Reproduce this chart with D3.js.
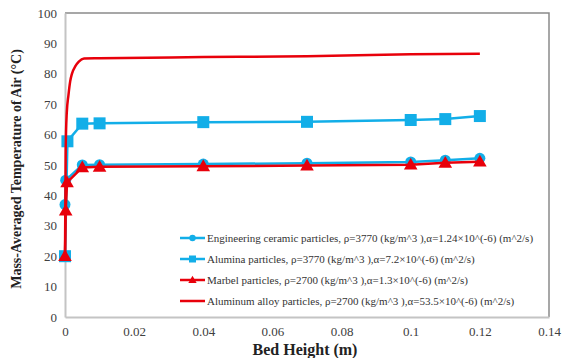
<!DOCTYPE html>
<html>
<head>
<meta charset="utf-8">
<script src="https://cdn.jsdelivr.net/npm/d3@7"></script>
<style>
  body { margin: 0; background: #fff; }
</style>
</head>
<body>
<div class="js-chart"></div>
<script>
// series data
var ceramicX = [0, 0.0002, 0.005, 0.01, 0.04, 0.07, 0.1, 0.11, 0.12];
var ceramicY = [37, 45, 50, 50.1, 50.3, 50.6, 51, 51.6, 52.2];

var aluminaX = [0, 0.0007, 0.005, 0.01, 0.04, 0.07, 0.1, 0.11, 0.12];
var aluminaY = [20, 57.8, 63.6, 63.7, 64.1, 64.2, 64.8, 65.1, 66.1];

var marbelX = [0, 0.0002, 0.0006, 0.005, 0.01, 0.04, 0.07, 0.1, 0.11, 0.12];
var marbelY = [20, 35, 44.3, 49.2, 49.4, 49.6, 49.8, 50.1, 50.7, 51.1];

var alloyX = [0, 0.0002, 0.0005, 0.001, 0.0015, 0.002, 0.003, 0.004, 0.0055, 0.01, 0.04, 0.07, 0.1, 0.12];
var alloyY = [20, 55, 67, 73, 77.5, 80, 82.5, 84, 85, 85.1, 85.5, 85.8, 86.4, 86.6];

var legendLabels = [
  "Engineering ceramic particles, \u03c1=3770 (kg/m^3 ),\u03b1=1.24\u00d710^(-6) (m^2/s)",
  "Alumina particles, \u03c1=3770 (kg/m^3 ),\u03b1=7.2\u00d710^(-6) (m^2/s)",
  "Marbel particles, \u03c1=2700 (kg/m^3 ),\u03b1=1.3\u00d710^(-6)  (m^2/s)",
  "Aluminum alloy particles, \u03c1=2700 (kg/m^3 ),\u03b1=53.5\u00d710^(-6)  (m^2/s)"
];
var xTicks = [0, 0.02, 0.04, 0.06, 0.08, 0.1, 0.12, 0.14];
var yTicks = [0, 10, 20, 30, 40, 50, 60, 70, 80, 90, 100];

var BLUE = "#12aee8";
var RED = "#e8000b";
var FONT = "'Liberation Serif', 'Times New Roman', 'DejaVu Serif', serif";

var width = 563, height = 358;
var margin = {top: 13, right: 14, bottom: 41, left: 65};

var svg = d3.select(".js-chart").append("svg")
  .attr("width", width)
  .attr("height", height)
  .style("font-family", FONT);

var x = d3.scaleLinear().domain([0, 0.14]).range([margin.left, width - margin.right]);
var y = d3.scaleLinear().domain([0, 100]).range([height - margin.bottom, margin.top]);

// frame top + right
svg.append("path")
  .attr("d", "M" + x(0) + "," + y(100) + "H" + x(0.14) + "V" + y(0))
  .attr("fill", "none")
  .attr("stroke", "#8a8a8a")
  .attr("stroke-width", 1.5);

// y axis
var yAxis = d3.axisLeft(y).tickValues(yTicks).tickSize(0).tickPadding(8);
var gy = svg.append("g").attr("transform", "translate(" + x(0) + ",0)").call(yAxis);
gy.attr("font-family", null);
gy.select(".domain").attr("stroke", "#c4c4c4").attr("stroke-width", 2);
gy.selectAll("text").attr("font-size", 13).attr("fill", "#404040").style("font-family", FONT);

// x axis
var xAxis = d3.axisBottom(x).tickValues(xTicks).tickSize(0).tickPadding(10)
  .tickFormat(function(d) { return d3.format("~g")(d); });
var gx = svg.append("g").attr("transform", "translate(0," + y(0) + ")").call(xAxis);
gx.attr("font-family", null);
gx.select(".domain").attr("stroke", "#c4c4c4").attr("stroke-width", 2);
gx.selectAll("text").attr("font-size", 13).attr("fill", "#404040").style("font-family", FONT);

// axis titles
svg.append("text")
  .attr("x", 305).attr("y", 355)
  .attr("text-anchor", "middle")
  .attr("font-size", 16).attr("font-weight", "bold").attr("fill", "#222")
  .style("font-family", FONT)
  .text("Bed Height (m)");

svg.append("text")
  .attr("transform", "translate(21," + 169 + ") rotate(-90)")
  .attr("text-anchor", "middle")
  .attr("font-size", 14).attr("font-weight", "bold").attr("fill", "#222")
  .style("font-family", FONT)
  .text("Mass-Averaged Temperature of Air (\u00b0C)");

function pts(xs, ys) {
  return xs.map(function(d, i) { return [d, ys[i]]; });
}

var line = d3.line().x(function(d) { return x(d[0]); }).y(function(d) { return y(d[1]); });
var smooth = d3.line().x(function(d) { return x(d[0]); }).y(function(d) { return y(d[1]); })
  .curve(d3.curveMonotoneX);

var ceramic = pts(ceramicX, ceramicY);
var alumina = pts(aluminaX, aluminaY);
var marbel = pts(marbelX, marbelY);
var alloy = pts(alloyX, alloyY);

function drawMarker(g, type, color, cx, cy) {
  if (type === "circle") {
    g.append("circle").attr("cx", cx).attr("cy", cy).attr("r", 5.5).attr("fill", color);
  } else if (type === "square") {
    g.append("rect").attr("x", cx - 6).attr("y", cy - 6).attr("width", 12).attr("height", 12).attr("fill", color);
  } else if (type === "triangle") {
    g.append("path").attr("d", d3.symbol().type(d3.symbolTriangle).size(80)()).attr("transform", "translate(" + cx + "," + (cy + 1) + ")").attr("fill", color);
  }
}

// draw order: ceramic, alumina, marbel, alloy
var series = [
  {data: ceramic, color: BLUE, marker: "circle", fn: line},
  {data: alumina, color: BLUE, marker: "square", fn: line},
  {data: marbel, color: RED, marker: "triangle", fn: line},
  {data: alloy, color: RED, marker: null, fn: smooth}
];

series.forEach(function(s) {
  var g = svg.append("g");
  g.append("path")
    .attr("d", s.fn(s.data))
    .attr("fill", "none")
    .attr("stroke", s.color)
    .attr("stroke-width", 2.5);
  if (s.marker) {
    s.data.forEach(function(d) {
      drawMarker(g, s.marker, s.color, x(d[0]), y(d[1]));
    });
  }
});

// legend
var legend = svg.append("g");
var legendY = [238, 259, 280, 301];
series.forEach(function(s, i) {
  var ly = legendY[i];
  legend.append("line")
    .attr("x1", 180).attr("x2", 205).attr("y1", ly).attr("y2", ly)
    .attr("stroke", s.color).attr("stroke-width", 2.5);
  if (s.marker === "circle") {
    legend.append("circle").attr("cx", 192.5).attr("cy", ly).attr("r", 3.2).attr("fill", s.color);
  } else if (s.marker === "square") {
    legend.append("rect").attr("x", 189).attr("y", ly - 3.5).attr("width", 7).attr("height", 7).attr("fill", s.color);
  } else if (s.marker === "triangle") {
    legend.append("path").attr("d", d3.symbol().type(d3.symbolTriangle).size(30)())
      .attr("transform", "translate(192.5," + (ly + 0.5) + ")").attr("fill", s.color);
  }
  legend.append("text")
    .attr("x", 207).attr("y", ly).attr("dy", "0.35em")
    .attr("font-size", 11).attr("fill", "#333")
    .style("font-family", FONT)
    .text(legendLabels[i]);
});
</script>
</body>
</html>
